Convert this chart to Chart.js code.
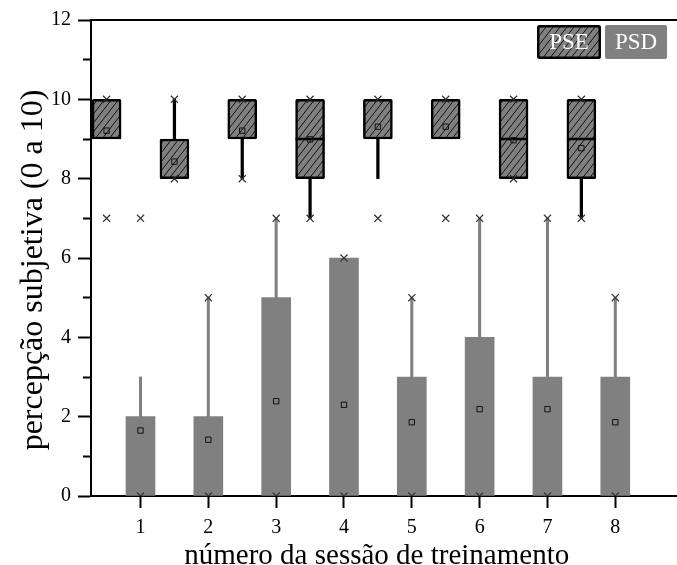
<!DOCTYPE html>
<html>
<head>
<meta charset="utf-8">
<script src="https://cdn.jsdelivr.net/npm/chart.js@4.4.1/dist/chart.umd.min.js"></script>
<style>
  html, body { margin: 0; padding: 0; background: #ffffff; }
  #wrap { width: 677px; height: 565px; }
</style>
</head>
<body>
<div id="wrap"><canvas id="c" width="677" height="565"></canvas></div>
<script>
// Training sessions (x axis) and tick labels
const sessions = [1, 2, 3, 4, 5, 6, 7, 8];
const xTickLabels = ['1', '2', '3', '4', '5', '6', '7', '8'];
const yTickValues = [0, 1, 2, 3, 4, 5, 6, 7, 8, 9, 10, 11, 12];
const yTickLabels = ['0', '', '2', '', '4', '', '6', '', '8', '', '10', '', '12'];

// PSE – box statistics per session
const pseQ1 = [9, 8, 9, 8, 9, 9, 8, 8];
const pseQ3 = [10, 9, 10, 10, 10, 10, 10, 10];
const pseMedian = [9, 8, 9, 9, 9, 9, 9, 9];
const pseMean = [9.21, 8.43, 9.21, 8.99, 9.31, 9.31, 8.97, 8.77];
const pseWhiskerLow = [9, 8, 8, 7, 8, 9, 8, 7];
const pseWhiskerHigh = [10, 10, 10, 10, 10, 10, 10, 10];
const pseMin = [7, 8, 8, 7, 7, 7, 8, 7];
const pseMax = [10, 10, 10, 10, 10, 10, 10, 10];

// PSD – box statistics per session
const psdQ1 = [0, 0, 0, 0, 0, 0, 0, 0];
const psdQ3 = [2, 2, 5, 6, 3, 4, 3, 3];
const psdMean = [1.65, 1.42, 2.39, 2.30, 1.86, 2.19, 2.19, 1.86];
const psdWhiskerHigh = [3, 5, 7, 6, 5, 7, 7, 5];
const psdMin = [0, 0, 0, 0, 0, 0, 0, 0];
const psdMax = [7, 5, 7, 6, 5, 7, 7, 5];

const seriesNames = ['PSE', 'PSD'];

const SERIF = "'Liberation Serif', 'Times New Roman', serif";
const PSE_SHIFT = -0.5;   // PSE boxes sit half a step left of each session
const BOX_W = 29;
const GRAY = '#808080';
const NBSP = '\u00A0';

const canvas = document.getElementById('c');
const ctx = canvas.getContext('2d');

function makeHatch() {
  const w = 7, h = 9;
  const t = document.createElement('canvas');
  t.width = w; t.height = h;
  const g = t.getContext('2d');
  g.fillStyle = GRAY;
  g.fillRect(0, 0, w, h);
  g.strokeStyle = '#111';
  g.lineWidth = 1;
  g.beginPath();
  for (let k = -1; k <= 1; k++) {
    g.moveTo(k * w, h);
    g.lineTo(k * w + w, 0);
  }
  g.stroke();
  return ctx.createPattern(t, 'repeat');
}
const hatch = makeHatch();

const pseX = sessions.map(s => s + PSE_SHIFT);

const pseBoxes = sessions.map((s, i) => ({ x: pseX[i], y: [pseQ1[i], pseQ3[i]] }));
const psdBoxes = sessions.map((s, i) => ({ x: s, y: [psdQ1[i], psdQ3[i]] }));

const pseWhiskers = [];
sessions.forEach((s, i) => {
  if (pseWhiskerLow[i] < pseQ1[i]) pseWhiskers.push({ x: pseX[i], y: [pseWhiskerLow[i], pseQ1[i]] });
  if (pseWhiskerHigh[i] > pseQ3[i]) pseWhiskers.push({ x: pseX[i], y: [pseQ3[i], pseWhiskerHigh[i]] });
});
const psdWhiskers = [];
sessions.forEach((s, i) => {
  if (psdWhiskerHigh[i] > psdQ3[i]) psdWhiskers.push({ x: s, y: [psdQ3[i], psdWhiskerHigh[i]] });
});

const pseExtremes = [];
sessions.forEach((s, i) => {
  pseExtremes.push({ x: pseX[i], y: pseMin[i] }, { x: pseX[i], y: pseMax[i] });
});
const psdExtremes = [];
sessions.forEach((s, i) => {
  psdExtremes.push({ x: s, y: psdMin[i] }, { x: s, y: psdMax[i] });
});

const pseMeans = sessions.map((s, i) => ({ x: pseX[i], y: pseMean[i] }));
const psdMeans = sessions.map((s, i) => ({ x: s, y: psdMean[i] }));

// Median lines inside the PSE boxes, drawn right after the boxes themselves
const medianLines = {
  id: 'medianLines',
  afterDatasetDraw(chart, args) {
    if (args.meta.label !== 'PSE') return;
    const xs = chart.scales.x, ys = chart.scales.y;
    const c = chart.ctx;
    c.save();
    c.strokeStyle = '#000';
    c.lineWidth = 2.5;
    sessions.forEach((s, i) => {
      if (pseMedian[i] <= pseQ1[i] || pseMedian[i] >= pseQ3[i]) return;
      const px = xs.getPixelForValue(pseX[i]);
      const py = ys.getPixelForValue(pseMedian[i]);
      c.beginPath();
      c.moveTo(px - BOX_W / 2, py);
      c.lineTo(px + BOX_W / 2, py);
      c.stroke();
    });
    c.restore();
  }
};

// Legend drawn as two labelled swatches in the upper right corner
const swatchLegend = {
  id: 'swatchLegend',
  afterDraw(chart) {
    const c = chart.ctx;
    const area = chart.chartArea;
    const top = area.top + 5, h = 34;
    const boxes = [
      { label: seriesNames[0], x: area.right - 140, w: 64, fill: hatch, border: true },
      { label: seriesNames[1], x: area.right - 72, w: 62, fill: GRAY, border: false }
    ];
    c.save();
    boxes.forEach(b => {
      c.fillStyle = b.fill;
      c.beginPath();
      c.roundRect(b.x, top, b.w, h, 2);
      c.fill();
      if (b.border) {
        c.strokeStyle = '#000';
        c.lineWidth = 2.5;
        c.beginPath();
        c.roundRect(b.x + 1.25, top + 1.25, b.w - 2.5, h - 2.5, 2);
        c.stroke();
      }
      c.fillStyle = '#ffffff';
      c.font = '23px ' + SERIF;
      c.textAlign = 'center';
      c.textBaseline = 'middle';
      c.fillText(b.label, b.x + b.w / 2, top + h / 2 + 1);
    });
    c.restore();
  }
};

new Chart(canvas, {
  type: 'bar',
  data: {
    datasets: [
      {
        type: 'scatter', label: 'PSE min/max', data: pseExtremes, order: 0,
        pointStyle: 'crossRot', radius: 5, borderColor: '#2a2a2a', borderWidth: 1.2,
        backgroundColor: 'rgba(0,0,0,0)', showLine: false
      },
      {
        type: 'scatter', label: 'PSD min/max', data: psdExtremes, order: 0, clip: 0,
        pointStyle: 'crossRot', radius: 5, borderColor: '#333333', borderWidth: 1.2,
        backgroundColor: 'rgba(0,0,0,0)', showLine: false
      },
      {
        type: 'scatter', label: 'PSE média', data: pseMeans, order: 1,
        pointStyle: 'rect', radius: 3.8, borderColor: '#111', borderWidth: 1,
        backgroundColor: 'rgba(0,0,0,0)', showLine: false
      },
      {
        type: 'scatter', label: 'PSD média', data: psdMeans, order: 1,
        pointStyle: 'rect', radius: 3.8, borderColor: '#111', borderWidth: 1,
        backgroundColor: 'rgba(0,0,0,0)', showLine: false
      },
      {
        label: 'PSE', data: pseBoxes, order: 2, grouped: false,
        backgroundColor: hatch, borderColor: '#000', borderWidth: 2.5,
        borderSkipped: false, borderRadius: 1.5, barThickness: BOX_W
      },
      {
        label: 'PSD', data: psdBoxes, order: 2, grouped: false,
        backgroundColor: GRAY, borderWidth: 0, barThickness: BOX_W
      },
      {
        label: 'PSE whisker', data: pseWhiskers, order: 3, grouped: false,
        backgroundColor: '#000', borderWidth: 0, barThickness: 2.6
      },
      {
        label: 'PSD whisker', data: psdWhiskers, order: 3, grouped: false,
        backgroundColor: GRAY, borderWidth: 0, barThickness: 2.4
      }
    ]
  },
  options: {
    responsive: false,
    animation: false,
    devicePixelRatio: 1,
    layout: { autoPadding: false, padding: { top: 20, left: 0, right: 0, bottom: 0 } },
    plugins: {
      legend: { display: false },
      tooltip: { enabled: false }
    },
    scales: {
      x: {
        type: 'linear', position: 'bottom', min: 0.27, max: 8.91, offset: false,
        afterBuildTicks: s => { s.ticks = sessions.map(v => ({ value: v })); },
        afterFit: s => { s.height = 69; },
        grid: {
          display: true, offset: false, drawOnChartArea: false, drawTicks: true, tickLength: 12,
          tickColor: '#000', tickWidth: 2
        },
        border: { display: true, color: '#000', width: 2 },
        ticks: {
          autoSkip: false, maxRotation: 0, padding: 8, color: '#000',
          font: { family: SERIF, size: 20 },
          callback: (v) => xTickLabels[sessions.indexOf(v)]
        },
        title: {
          display: true, text: 'número da sessão de treinamento' + NBSP + NBSP, color: '#000',
          font: { family: SERIF, size: 29, lineHeight: 1 },
          padding: { top: 0, bottom: -6 }
        }
      },
      xTop: {
        type: 'linear', position: 'top', min: 0.27, max: 8.91, offset: false,
        afterFit: s => { s.height = 0; },
        grid: { offset: false, drawOnChartArea: false, drawTicks: false },
        border: { display: true, color: '#000', width: 2 },
        ticks: { display: false }
      },
      y: {
        type: 'linear', position: 'left', min: 0, max: 12,
        afterBuildTicks: s => { s.ticks = yTickValues.map(v => ({ value: v })); },
        afterFit: s => { s.width = 91; },
        grid: {
          drawOnChartArea: false, drawTicks: true, tickLength: 13,
          tickColor: '#000', tickWidth: 2,
          tickBorderDash: (c) => (c.tick && c.tick.value % 2 !== 0) ? [0, 5, 8, 60] : []
        },
        border: { display: true, color: '#000', width: 2 },
        ticks: {
          autoSkip: false, padding: 7, color: '#000',
          font: { family: SERIF, size: 20 },
          callback: (v) => yTickLabels[yTickValues.indexOf(v)]
        },
        title: {
          display: true, text: 'percepção subjetiva (0 a 10)' + NBSP + NBSP + NBSP, color: '#000',
          font: { family: SERIF, size: 32 },
          padding: { top: 14, bottom: 0 }
        }
      }
    }
  },
  plugins: [medianLines, swatchLegend]
});
</script>
</body>
</html>
